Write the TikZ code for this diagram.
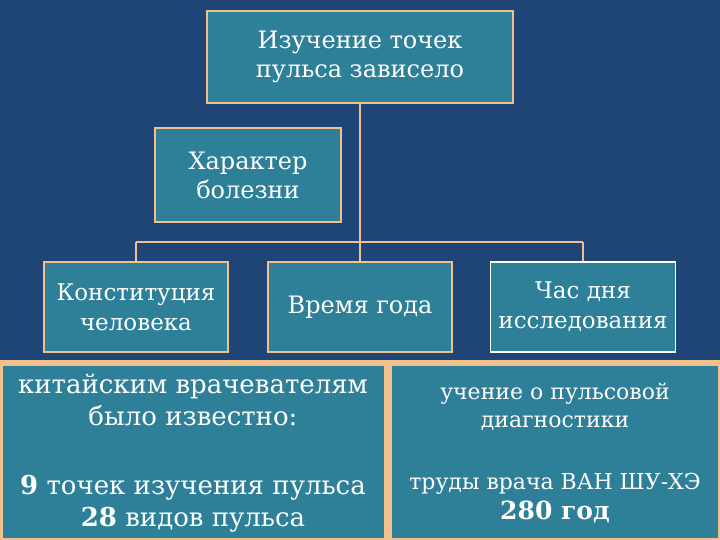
\documentclass[tikz,border=0pt]{standalone}
\usepackage{fontspec}
\setmainfont{DejaVu Serif}
\begin{document}
\begin{tikzpicture}[x=1pt,y=-1pt,
  bx/.style={draw=peach,line width=1.5pt,fill=teal1,text=white,align=center,inner sep=0pt,font=\fontsize{24}{29}\selectfont},
  ln/.style={draw=peach,line width=2pt}]
\definecolor{bg}{HTML}{1F4476}
\definecolor{teal1}{HTML}{2E7F98}
\definecolor{peach}{HTML}{F2C08C}
\fill[bg] (0,0) rectangle (720,540);
\useasboundingbox (0,0) rectangle (720,540);
\coordinate (j) at (360,242);
\coordinate (jl) at (136,242);
\coordinate (jr) at (583,242);
\draw[ln] (360,103) -- (j);
\draw[ln] (jl) -- (jr);
\draw[ln] (jl) -- (136,262);
\draw[ln] (j) -- (360,262);
\draw[ln] (jr) -- (583,262);
\node[bx,minimum width=306,minimum height=92] (top) at (360,57) {Изучение точек\\пульса зависело};
\node[bx,minimum width=186,minimum height=94] (ch) at (248,175) {Характер\\болезни};
\node[bx,minimum width=184,minimum height=90,font=\fontsize{23}{30}\selectfont] (k) at (136,307) {Конституция\\человека};
\node[bx,minimum width=184,minimum height=90] (v) at (360,307) {Время года};
\node[bx,draw=white,minimum width=185,minimum height=90,font=\fontsize{23}{30}\selectfont] (h) at (583,307) {Час дня\\исследования};
\fill[peach] (0,360) rectangle (720,540);
\node[fill=teal1,minimum width=381,minimum height=172,inner sep=0pt] (L) at (193.5,452) {};
\node[fill=teal1,minimum width=326,minimum height=172,inner sep=0pt] (R) at (555,452) {};
\node[text=white,align=center,font=\fontsize{26}{32}\selectfont] (l1) at (193,400) {китайским врачевателям\\было известно:};
\node[text=white,align=center,font=\fontsize{26}{32}\selectfont] (l2) at (193,504) {\textbf{9} точек изучения пульса\\\textbf{28} видов пульса};
\node[text=white,align=center,font=\fontsize{22}{28}\selectfont] (r1) at (555,407) {учение о пульсовой\\диагностики};
\node[text=white,align=center,font=\fontsize{22}{30}\selectfont] (r2) at (555,498) {труды врача ВАН ШУ-ХЭ\\{\fontsize{25}{30}\selectfont\bfseries 280 год}};
\end{tikzpicture}
\end{document}
